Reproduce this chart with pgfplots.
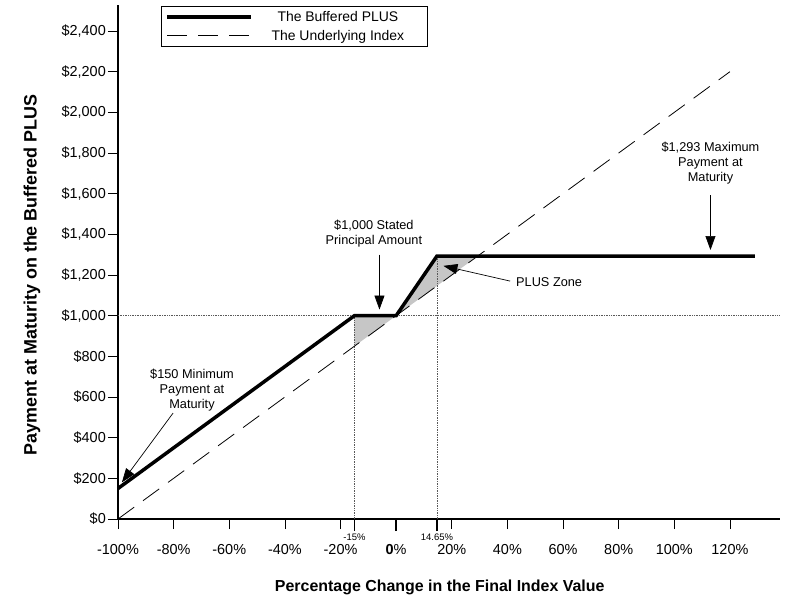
\documentclass[border=0pt]{standalone}
\usepackage{pgfplots}
\pgfplotsset{compat=1.18}
\usepackage{fontspec}
\setmainfont{Liberation Sans}
\usetikzlibrary{arrows.meta}
\begin{document}
\begin{tikzpicture}
\path[use as bounding box] (-118bp,-88bp) rectangle (677bp,519bp);
\begin{axis}[
  at={(0,0)}, anchor=south west,
  scale only axis, width=662bp, height=514bp,
  xmin=-100, xmax=138, ymin=0, ymax=2528,
  axis lines*=left,
  axis line style={line width=1.1pt, black},
  tick align=outside,
  major tick length=10bp,
  tick style={black, line width=0.7pt},
  /pgf/number format/assume math mode=true,
  xtick={-100,-80,-60,-40,-20,0,20,40,60,80,100,120},
  xticklabels={-100\%,-80\%,-60\%,-40\%,-20\%,\textbf{0}\%,20\%,40\%,60\%,80\%,100\%,120\%},
  xticklabel style={font=\fontsize{14.5}{16}\selectfont, yshift=-12bp},
  extra x ticks={-15,0,14.65},
  extra x tick labels={-15\%,,14.65\%},
  extra x tick style={major tick length=12bp, tick style={line width=1.6pt},
    xticklabel style={font=\fontsize{9.5}{10}\selectfont, yshift=13bp}},
  ytick={0,200,400,600,800,1000,1200,1400,1600,1800,2000,2200,2400},
  yticklabels={\$0,\$200,\$400,\$600,\$800,{\$1,000},{\$1,200},{\$1,400},{\$1,600},{\$1,800},{\$2,000},{\$2,200},{\$2,400}},
  yticklabel style={font=\fontsize{14.5}{16}\selectfont, inner xsep=2bp},
  xlabel={Percentage Change in the Final Index Value},
  ylabel={Payment at Maturity on the Buffered PLUS},
  every axis x label/.style={at={(axis description cs:0.486,-0.134)}, anchor=center, font=\bfseries\fontsize{16}{18}\selectfont},
  every axis y label/.style={at={(axis description cs:-0.13,0.475)}, anchor=center, rotate=90, font=\bfseries\fontsize{18}{20}\selectfont},
  legend style={at={(axis description cs:0.065,0.998)}, anchor=north west, draw=black, line width=0.7pt,
    font=\fontsize{14}{16}\selectfont, inner xsep=4bp, inner ysep=3bp, row sep=3bp},
  legend image code/.code={\draw[#1] (0bp,0bp) -- (84bp,0bp);},
  legend cell align=left,
  clip=false,
]
% shaded PLUS zone
\addplot[fill=gray!45, draw=none, forget plot] coordinates {(-15,850) (-15,1000) (0,1000)} -- cycle;
\addplot[fill=gray!45, draw=none, forget plot] coordinates {(0,1000) (14.65,1293) (29.3,1293)} -- cycle;
% reference dotted lines
\addplot[densely dotted, gray!70!black, line width=0.7pt, forget plot] coordinates {(-100,1000) (138,1000)};
\addplot[densely dotted, gray!70!black, line width=0.7pt, forget plot] coordinates {(-15,0) (-15,1000)};
\addplot[densely dotted, gray!70!black, line width=0.7pt, forget plot] coordinates {(14.65,0) (14.65,1293)};
% series
\addplot[black, line width=3.5bp] coordinates {(-100,150) (-15,1000) (0,1000) (14.65,1293) (129,1293)};
\addlegendentry{\makebox[166bp]{The Buffered PLUS}}
\addplot[black, line width=0.8bp, dash pattern=on 20bp off 11bp] coordinates {(-100,0) (120,2200)};
\addlegendentry{\makebox[166bp]{The Underlying Index}}
% annotations
\node[align=center, font=\fontsize{12.8}{15}\selectfont] at (axis cs:-8,1405) {\$1,000 Stated\\Principal Amount};
\draw[-{Triangle[length=14bp,width=10bp]}, line width=0.7pt] (axis cs:-6,1300) -- (axis cs:-6,1030);
\node[font=\fontsize{12.8}{15}\selectfont] at (axis cs:55,1165) {PLUS Zone};
\draw[-{Triangle[length=14bp,width=10bp]}, line width=0.7pt] (axis cs:41,1170) -- (axis cs:17,1245);
\node[align=center, font=\fontsize{12.8}{15}\selectfont] at (axis cs:113,1750) {\$1,293 Maximum\\Payment at\\Maturity};
\draw[-{Triangle[length=14bp,width=10bp]}, line width=0.7pt] (axis cs:113,1593) -- (axis cs:113,1323);
\node[align=center, font=\fontsize{12.8}{15}\selectfont] at (axis cs:-73.4,634) {\$150 Minimum\\Payment at\\Maturity};
\draw[-{Triangle[length=14bp,width=10bp]}, line width=0.7pt] (axis cs:-80.2,521) -- (axis cs:-98.6,180);
\end{axis}
\end{tikzpicture}
\end{document}
